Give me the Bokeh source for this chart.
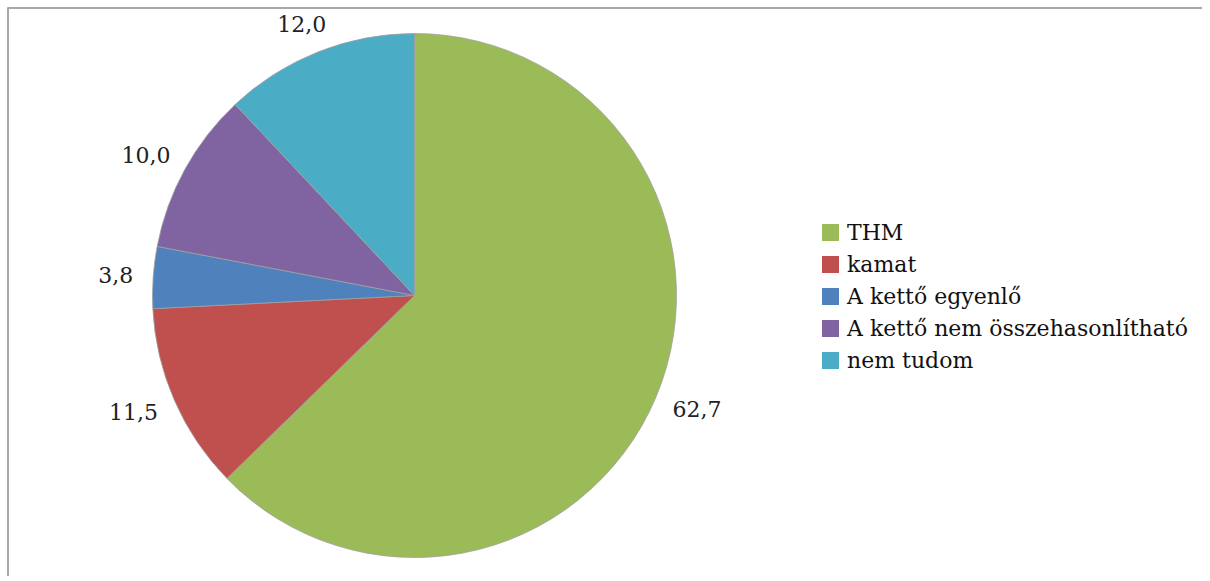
import math
from bokeh.plotting import figure
from bokeh.models import Range1d, ColumnDataSource
from bokeh.core.properties import value
from bokeh.embed import file_html
from bokeh.resources import INLINE

# ---- data ----
categories = ["THM", "kamat", "A kettő egyenlő", "A kettő nem összehasonlítható", "nem tudom"]
values = [62.7, 11.5, 3.8, 10.0, 12.0]
colors = ["#9BBB59", "#C0504D", "#4F81BD", "#8064A2", "#4BACC6"]

# ---- layout (page pixel space mapped 1:1 onto data space) ----
W, H = 1202, 576
FONT = value("DejaVu Serif")
FS = 22


def py(page_y):
    return H - page_y


p = figure(width=W, height=H, x_range=Range1d(0, W), y_range=Range1d(0, H),
           output_backend="svg", toolbar_location=None, x_axis_type=None, y_axis_type=None,
           min_border=0, outline_line_color=None, background_fill_color="white",
           border_fill_color="white")
p.grid.visible = False

# frame lines (top and left)
p.segment(x0=[7, 7.5], y0=[py(7.5), py(7)], x1=[W, 7.5], y1=[py(7.5), py(H)],
          line_color="#a8a8a8", line_width=2)

# ---- pie ----
cx, cy, R = 414, py(295), 262
total = sum(values)
starts, ends, mids = [], [], []
cum = 0.0
for v in values:
    a0 = math.pi / 2 - 2 * math.pi * cum / total
    a1 = math.pi / 2 - 2 * math.pi * (cum + v) / total
    starts.append(a0)
    ends.append(a1)
    mids.append((a0 + a1) / 2)
    cum += v

src = ColumnDataSource(dict(start=starts, end=ends, color=colors, cat=categories))
p.wedge(x=cx, y=cy, radius=R, start_angle="start", end_angle="end", direction="clock",
        fill_color="color", line_color="#a0a0a0", line_width=0.8, source=src)

# ---- data labels ----
labels = [f"{v:.1f}".replace(".", ",") for v in values]
gap = 20
lx, ly = [], []
for lab, th in zip(labels, mids):
    ux, uy = math.cos(th), math.sin(th)
    w = FS * (0.636 * (len(lab) - 1) + 0.318)
    h = 20
    lx.append(cx + (R + gap) * ux + w / 2 * ux)
    ly.append(cy + (R + gap) * uy + h / 2 * uy)
p.text(x=lx, y=ly, text=labels, text_font=FONT, text_font_size=f"{FS}px",
       text_align="center", text_baseline="middle", text_color="#222222")

# ---- legend ----
leg_x, leg_y0, step, sq = 830, 232, 32, 17
ys = [py(leg_y0 + i * step) for i in range(len(categories))]
p.rect(x=[leg_x] * len(categories), y=ys, width=sq, height=sq, fill_color=colors,
       line_color=None)
p.text(x=[leg_x + sq / 2 + 8] * len(categories), y=ys, text=categories, text_font=FONT,
       text_font_size=f"{FS}px", text_align="left", text_baseline="middle",
       text_color="#111111")

open("out.html", "w").write(file_html(p, INLINE))
